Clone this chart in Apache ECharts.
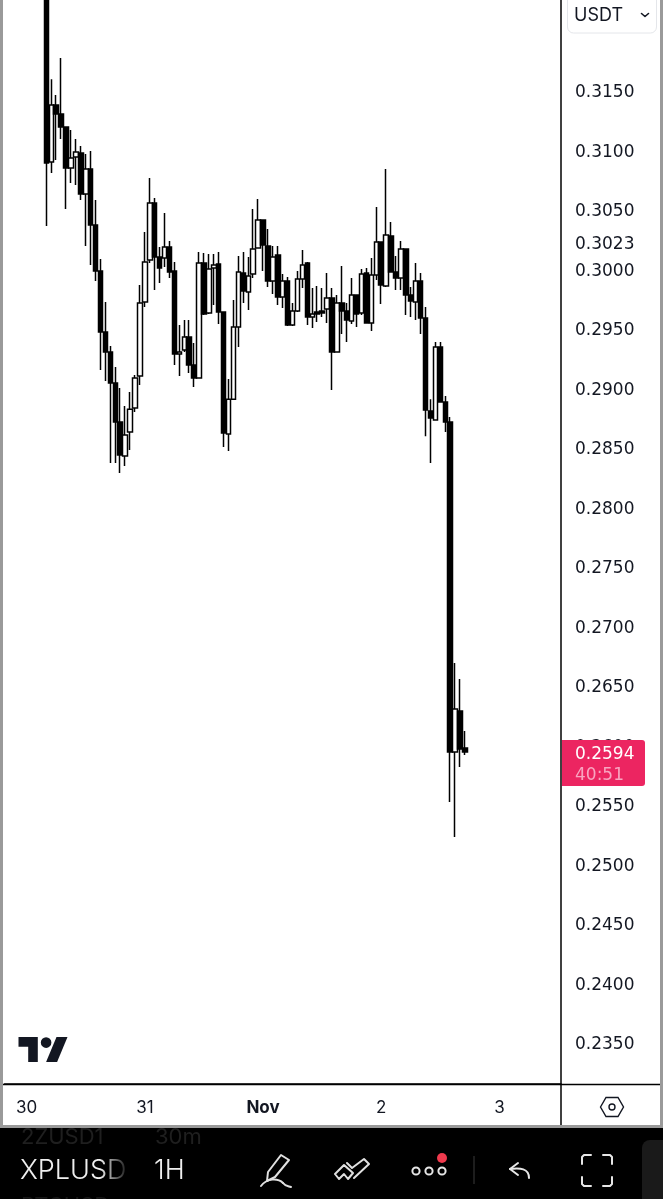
<!DOCTYPE html>
<html><head><meta charset="utf-8">
<style>html,body{margin:0;padding:0;background:#000}#c{width:663px;height:1199px}</style>
<script src="https://cdn.jsdelivr.net/npm/echarts@6/dist/echarts.min.js"></script>
</head><body><div id="c"></div>
<script>
const opens=[.3252,.30903,.31382,.31306,.31197,.30853,.30945,.30979,.30634,.30844,.30374,.29988,.29475,.29307,.29047,.28718,.28433,.28634,.28836,.29106,.29727,.30080,.30559,.30105,.30097,.30189,.29988,.29290,.29324,.29433,.29198,.29089,.30055,.29635,.30013,.30046,.29643,.28617,.28911,.29517,.29971,.29811,.29962,.30181,.30416,.30198,.29904,.30122,.29769,.29904,.29534,.29652,.29921,.30055,.29601,.29643,.29652,.29668,.29761,.29307,.29719,.29652,.29568,.29786,.29635,.29971,.29550,.29954,.30231,.29862,.30282,.29979,.29929,.30172,.29786,.29727,.29904,.29593,.28811,.28735,.29349,.28887,.28718,.25946,.26290,.25979];
const closes=[.30895,.31382,.31306,.31197,.30853,.30937,.30987,.30634,.30844,.30374,.29988,.29475,.29307,.29047,.28718,.28441,.28609,.28827,.29089,.29719,.30063,.30559,.30105,.30013,.30189,.29979,.29290,.29307,.29433,.29198,.29089,.30055,.29626,.30004,.30038,.29643,.28626,.28911,.29517,.29979,.29820,.29945,.30172,.30416,.30206,.29904,.30105,.29769,.29904,.29534,.29652,.29921,.30038,.29601,.29626,.29626,.29635,.29761,.29307,.29719,.29652,.29576,.29786,.29626,.29962,.29550,.29954,.30231,.29870,.30290,.29979,.29929,.30172,.29786,.29736,.29904,.29593,.28819,.28752,.29349,.28887,.28718,.25946,.26307,.25971,.25946];
const lows=[.30366,.30811,.30920,.31096,.30508,.30727,.30710,.30584,.30198,.30038,.29904,.29156,.29064,.28374,.28374,.28290,.28349,.28483,.28802,.29030,.29685,.30055,.29828,.29887,.30021,.29929,.29198,.29106,.29307,.29131,.29013,.29089,.29618,.29626,.29702,.29542,.28508,.28475,.28903,.29349,.29719,.29660,.29929,.30181,.29988,.29853,.29794,.29702,.29677,.29525,.29525,.29643,.29845,.29534,.29509,.29559,.29601,.29550,.28988,.29307,.29458,.29391,.29542,.29517,.29618,.29550,.29484,.29912,.29710,.29853,.29979,.29828,.29828,.29618,.29601,.29576,.29458,.28600,.28374,.28735,.28887,.28634,.25525,.25231,.25820,.25920];
const highs=[.3252,.31600,.31466,.31777,.31197,.31172,.31096,.31038,.30970,.30996,.30584,.30088,.29727,.29358,.29181,.29005,.28853,.28971,.29114,.29870,.30315,.30769,.30601,.30189,.30475,.30240,.30063,.29534,.29576,.29576,.29383,.30147,.30139,.30130,.30130,.30147,.29643,.29080,.29744,.30113,.30147,.30105,.30508,.30592,.30416,.30340,.30198,.30198,.29962,.29937,.29719,.29988,.30164,.30063,.29845,.29862,.29845,.29971,.29845,.29786,.30029,.29719,.29929,.29786,.30004,.30013,.30097,.30525,.30231,.30844,.30399,.30113,.30240,.30172,.29853,.30055,.29971,.29685,.28911,.29391,.29391,.28937,.28760,.26694,.26559,.26122];
const yTicks=[0.3150,0.3100,0.3050,0.3023,0.3000,0.2950,0.2900,0.2850,0.2800,0.2750,0.2700,0.2650,0.2600,0.2550,0.2500,0.2450,0.2400,0.2350];
const dayLabels={4:'30',28:'31',52:'Nov',76:'2',100:'3'};
const BAND_COUNT=113, FIRST_BAND=8;

const categories=[];for(let k=0;k<BAND_COUNT;k++)categories.push(dayLabels[k]||'h'+k);
const candleData=categories.map((_,k)=>{
  const i=k-FIRST_BAND;
  return (i>=0&&i<opens.length)?[opens[i],closes[i],lows[i],highs[i]]:['-','-','-','-'];
});
const FONT='Inter, "Noto Sans", sans-serif';
const PRICE_FONT='"DejaVu Sans", sans-serif';
const txt=(text,x,y,size,fill,extra)=>({type:'text',silent:true,z:extra&&extra.z||30,style:{text,x,y,fill,font:(extra&&extra.weight||'400')+' '+size+'px '+(extra&&extra.family||FONT),textVerticalAlign:'middle',textAlign:'left'}});
const rect=(x,y,w,h,fill,z,r)=>({type:'rect',silent:true,z:z||20,shape:{x,y,width:w,height:h,r:r||0},style:{fill}});
const line=(x1,y1,x2,y2,stroke,w,z)=>({type:'line',silent:true,z:z||25,shape:{x1,y1,x2,y2},style:{stroke,lineWidth:w,lineCap:'butt'}});
const poly=(points,style)=>({type:'polygon',silent:true,z:31,shape:{points},style});
const pl=(points,stroke,w)=>({type:'polyline',silent:true,z:31,shape:{points},style:{stroke:stroke||'#e0e0e0',lineWidth:w||2,fill:'none',lineJoin:'round',lineCap:'round'}});
const circ=(cx,cy,r,style)=>({type:'circle',silent:true,z:31,shape:{cx,cy,r},style});
const bez=(x1,y1,cpx1,cpy1,cpx2,cpy2,x2,y2,stroke,w)=>({type:'bezierCurve',silent:true,z:31,shape:{x1,y1,cpx1,cpy1,cpx2,cpy2,x2,y2},style:{stroke,lineWidth:w,fill:'none',lineCap:'round'}});
const ICON='#e0e0e0';

const graphics=[
  rect(0,0,3,1127,'#9a9a9a'), rect(660,0,3,1127,'#9a9a9a'), rect(0,1125,663,3,'#9a9a9a'),
  rect(0,1128,663,71,'#000'),
  line(3,1084.5,660,1084.5,'#000',1.5), line(561,1084,561,1125,'#000',1.5),
  // logo
  poly([[18.5,1037],[37.8,1037],[37.8,1062],[28.2,1062],[28.2,1046.7],[18.5,1046.7]],{fill:'#131722'}),
  poly([[46.1,1062],[56.5,1037],[67.5,1037],[57.1,1062]],{fill:'#131722'}),
  circ(46.1,1042.6,5.3,{fill:'#131722'}),
  // currency button
  {type:'rect',silent:true,z:20,shape:{x:567.5,y:-10,width:89,height:43,r:6},style:{fill:'#fff',stroke:'#e4e6ea',lineWidth:1}},
  txt('USDT',574,15.5,18,'#131722'),
  pl([[641.5,13.5],[645,16.5],[648.5,13.5]],'#131722',1.6),
  // settings hexagon
  poly([[600.5,1107],[606,1097.5],[618,1097.5],[623.5,1107],[618,1116.5],[606,1116.5]],{stroke:'#131722',lineWidth:1.4,fill:'none'}),
  circ(612,1107,3,{stroke:'#131722',lineWidth:1.4,fill:'none'}),
  // last price tag
  {type:'rect',silent:true,z:20,shape:{x:562,y:740,width:83,height:46,r:[0,3,3,0]},style:{fill:'#ec2561'}},
  txt('0.2594',575,754.5,17,'#ffffff',{family:PRICE_FONT}),
  txt('40:51',575,776,17,'#f8a5c0',{family:PRICE_FONT}),
  // toolbar
  txt('2ZUSD1',21,1137,22,'#1f1f1f'), txt('30m',155,1137,22,'#1f1f1f'),
  txt('BTCUSD',21,1206,22,'#161616'),
  txt('XPLUSD',20,1171,27,'#efefef',{weight:'300'}),
  rect(100,1155,30,30,{type:'linear',x:0,y:0,x2:1,y2:0,colorStops:[{offset:0,color:'rgba(0,0,0,0)'},{offset:1,color:'rgba(0,0,0,1)'}]},31),
  txt('1H',154,1171,27,'#efefef',{weight:'300',z:32}),
  poly([[281,1155],[289,1160],[275,1177],[267,1181],[268,1172]],{stroke:ICON,lineWidth:2,fill:'none',lineJoin:'round'}),
  bez(261,1186,267,1178,278,1178,283,1183,ICON,2), bez(283,1183,285,1186,288,1186,291,1187,ICON,2),
  pl([[335,1174],[344,1165],[353,1173],[348,1179],[344,1174],[339,1179],[335,1174]]),
  pl([[347,1163],[352,1168],[364,1159],[369,1164],[354,1178]]),
  circ(416,1171,3.6,{stroke:'#e6e6e6',lineWidth:2,fill:'none'}),
  circ(429,1171,3.6,{stroke:'#e6e6e6',lineWidth:2,fill:'none'}),
  circ(442,1171,3.6,{stroke:'#e6e6e6',lineWidth:2,fill:'none'}),
  circ(442,1158,5,{fill:'#ef3a4d'}),
  line(474,1156,474,1184,'#3a3a3a',1,31),
  pl([[518,1163],[510,1169],[518,1175]],'#e6e6e6',2),
  bez(510,1169,520,1168,529,1168,529,1178,'#e6e6e6',2),
  pl([[582,1164],[582,1157],[584,1155],[591,1155]],'#e6e6e6',2),
  pl([[603,1155],[610,1155],[612,1157],[612,1164]],'#e6e6e6',2),
  pl([[612,1177],[612,1184],[610,1186],[603,1186]],'#e6e6e6',2),
  pl([[591,1186],[584,1186],[582,1184],[582,1177]],'#e6e6e6',2),
  rect(642,1140,30,70,'#1a1a1a',31,8)
];

const chart=echarts.init(document.getElementById('c'),null,{renderer:'canvas'});
chart.setOption({
  animation:false,backgroundColor:'#fff',
  grid:{left:4.5,top:0,width:556.5,height:1084,containLabel:false},
  xAxis:{type:'category',data:categories,boundaryGap:true,
    axisLine:{show:true,lineStyle:{color:'#000',width:1.5}},axisTick:{show:false},splitLine:{show:false},
    axisLabel:{interval:(i)=>dayLabels[i]!==undefined,margin:15,fontFamily:FONT,fontSize:17,color:'#131722',
      formatter:(v)=>v==='Nov'?'{b|Nov}':v,rich:{b:{fontFamily:FONT,fontSize:17,fontWeight:700,color:'#131722'}},hideOverlap:false,showMinLabel:true,showMaxLabel:true}},
  yAxis:{type:'value',position:'right',min:0.23156,max:0.32265,scale:true,
    axisLine:{show:true,onZero:false,lineStyle:{color:'#000',width:1.5}},axisTick:{show:false},splitLine:{show:false},
    axisLabel:{customValues:yTicks,margin:14,verticalAlign:'top',lineHeight:4,fontFamily:PRICE_FONT,fontSize:17,color:'#131722',formatter:(v)=>v.toFixed(4),showMinLabel:true,showMaxLabel:true,hideOverlap:false}},
  series:[{type:'candlestick',data:candleData,barWidth:5,clip:true,
    itemStyle:{color:'#ffffff',color0:'#000000',borderColor:'#000000',borderColor0:'#000000',borderWidth:1.5}}],
  graphic:{elements:graphics}
});
</script></body></html>
